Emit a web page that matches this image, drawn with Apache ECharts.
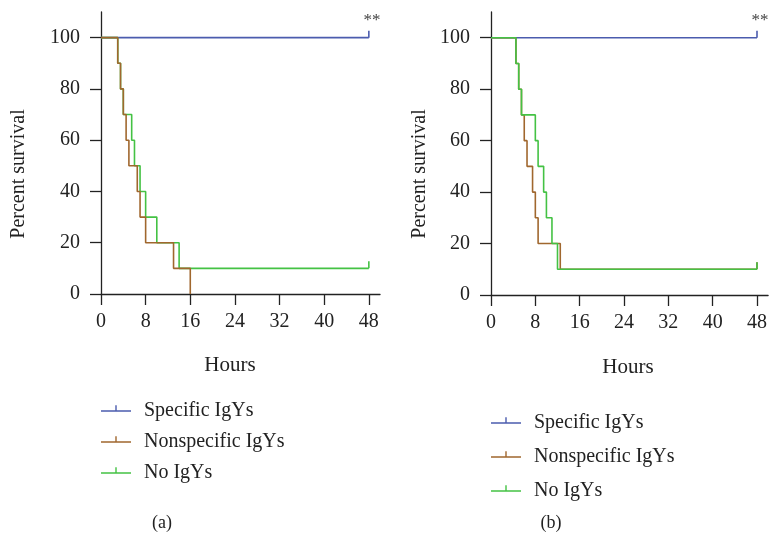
<!DOCTYPE html>
<html><head><meta charset="utf-8">
<script src="https://cdn.jsdelivr.net/npm/echarts@6.0.0/dist/echarts.min.js"></script>
</head><body style="margin:0;background:#fff">
<div id="c" style="width:770px;height:542px"></div>
<script>
const hoursTicks = [0, 8, 16, 24, 32, 40, 48];
const percentTicks = [0, 20, 40, 60, 80, 100];
const seriesNames = ['Specific IgYs', 'Nonspecific IgYs', 'No IgYs'];
const colors = ['#4b5cae', '#a0672e', '#44c244'];

// Panel (a)
const aSpecificT = [0, 48];
const aSpecificV = [100, 100];
const aNonspecificT = [0, 3, 3.5, 4, 4.5, 5, 6.5, 7, 8, 13, 16];
const aNonspecificV = [100, 90, 80, 70, 60, 50, 40, 30, 20, 10, 0];
const aNoT = [0, 3, 3.5, 4, 5.5, 6, 7, 8, 10, 14, 48];
const aNoV = [100, 90, 80, 70, 60, 50, 40, 30, 20, 10, 10];

// Panel (b)
const bSpecificT = [0, 48];
const bSpecificV = [100, 100];
const bNonspecificT = [0, 4.5, 5, 5.5, 6, 6.5, 7.5, 8, 8.5, 12.5, 48];
const bNonspecificV = [100, 90, 80, 70, 60, 50, 40, 30, 20, 10, 10];
const bNoT = [0, 4.5, 5, 5.5, 8, 8.5, 9.5, 10, 11, 12, 48];
const bNoV = [100, 90, 80, 70, 60, 50, 40, 30, 20, 10, 10];

const FONT = '"Liberation Serif", "DejaVu Serif", serif';
const AXIS_COLOR = '#222';

function km(t, v, censor) {
  return t.map((x, i) => {
    const p = { value: [x, v[i]] };
    if (censor && i === t.length - 1) {
      p.symbol = 'rect';
      p.symbolSize = [1.6, 7];
      p.symbolOffset = [0, -3.5];
    }
    return p;
  });
}

function line(name, idx, data, z) {
  const c = colors[seriesNames.indexOf(name)];
  return {
    type: 'line', name: name, xAxisIndex: idx, yAxisIndex: idx,
    step: 'end', data: data, symbol: 'none', showSymbol: true,
    color: c, lineStyle: { width: 1.6, color: c }, itemStyle: { color: c },
    z: z, silent: true, animation: false
  };
}

function xAxis(idx, max) {
  return {
    type: 'value', gridIndex: idx, min: 0, max: max,
    axisLine: { show: true, lineStyle: { color: AXIS_COLOR, width: 1.3 } },
    axisTick: { show: true, length: 11, customValues: hoursTicks, lineStyle: { color: AXIS_COLOR, width: 1.3 } },
    axisLabel: { customValues: hoursTicks, margin: 18, color: AXIS_COLOR, fontFamily: FONT, fontSize: 20 },
    splitLine: { show: false }
  };
}
function yAxis(idx) {
  return {
    type: 'value', gridIndex: idx, min: 0, max: 110,
    axisLine: { show: true, lineStyle: { color: AXIS_COLOR, width: 1.3 } },
    axisTick: { show: true, length: 11, customValues: percentTicks, lineStyle: { color: AXIS_COLOR, width: 1.3 } },
    axisLabel: { customValues: percentTicks, margin: 21, color: AXIS_COLOR, fontFamily: FONT, fontSize: 20 },
    splitLine: { show: false }
  };
}

// line with a small upward censor tick; a near-invisible sliver below keeps the line vertically centred
const legendIcon = 'path://M0,5 L30,5 L30,6.5 L0,6.5 Z M14.3,0 L15.7,0 L15.7,5 L14.3,5 Z M15,6.5 L15.01,6.5 L15.01,11.5 L15,11.5 Z';
function legend(left, top, gap) {
  return {
    orient: 'vertical', left: left, top: top, itemWidth: 30, itemHeight: 11.5, itemGap: gap,
    icon: legendIcon, data: seriesNames, selectedMode: false, padding: 0,
    textStyle: { fontFamily: FONT, fontSize: 20, color: '#222', padding: [0, 0, 0, 8], lineHeight: 20 }
  };
}

function txt(x, y, text, size, rot, color) {
  return {
    type: 'text', x: x, y: y, rotation: rot || 0,
    style: { text: text, fontFamily: FONT, fontSize: size, fill: color || '#222', align: 'center', verticalAlign: 'middle' }
  };
}

const option = {
  backgroundColor: '#fff',
  animation: false,
  grid: [
    { left: 101, width: 279, top: 12, height: 282 },
    { left: 491, width: 279, top: 12, height: 283 }
  ],
  xAxis: [xAxis(0, 50), xAxis(1, 50)],
  yAxis: [yAxis(0), yAxis(1)],
  legend: [legend(101, 401, 11), legend(491, 413, 14)],
  series: [
    line('Specific IgYs', 0, km(aSpecificT, aSpecificV, true), 3),
    line('No IgYs', 0, km(aNoT, aNoV, true), 4),
    line('Nonspecific IgYs', 0, km(aNonspecificT, aNonspecificV, false), 5),
    line('Specific IgYs', 1, km(bSpecificT, bSpecificV, true), 3),
    line('Nonspecific IgYs', 1, km(bNonspecificT, bNonspecificV, true), 4),
    line('No IgYs', 1, km(bNoT, bNoV, true), 5)
  ],
  graphic: [
    txt(19, 174, 'Percent survival', 20, Math.PI / 2),
    txt(420, 174, 'Percent survival', 20, Math.PI / 2),
    txt(230, 365, 'Hours', 21),
    txt(628, 367, 'Hours', 21),
    txt(372, 21, '**', 17, 0, '#444'),
    txt(760, 21, '**', 17, 0, '#444'),
    txt(162, 523, '(a)', 18),
    txt(551, 523, '(b)', 18)
  ]
};

const chart = echarts.init(document.getElementById('c'), null, { renderer: 'canvas' });
chart.setOption(option);
</script>
</body></html>
